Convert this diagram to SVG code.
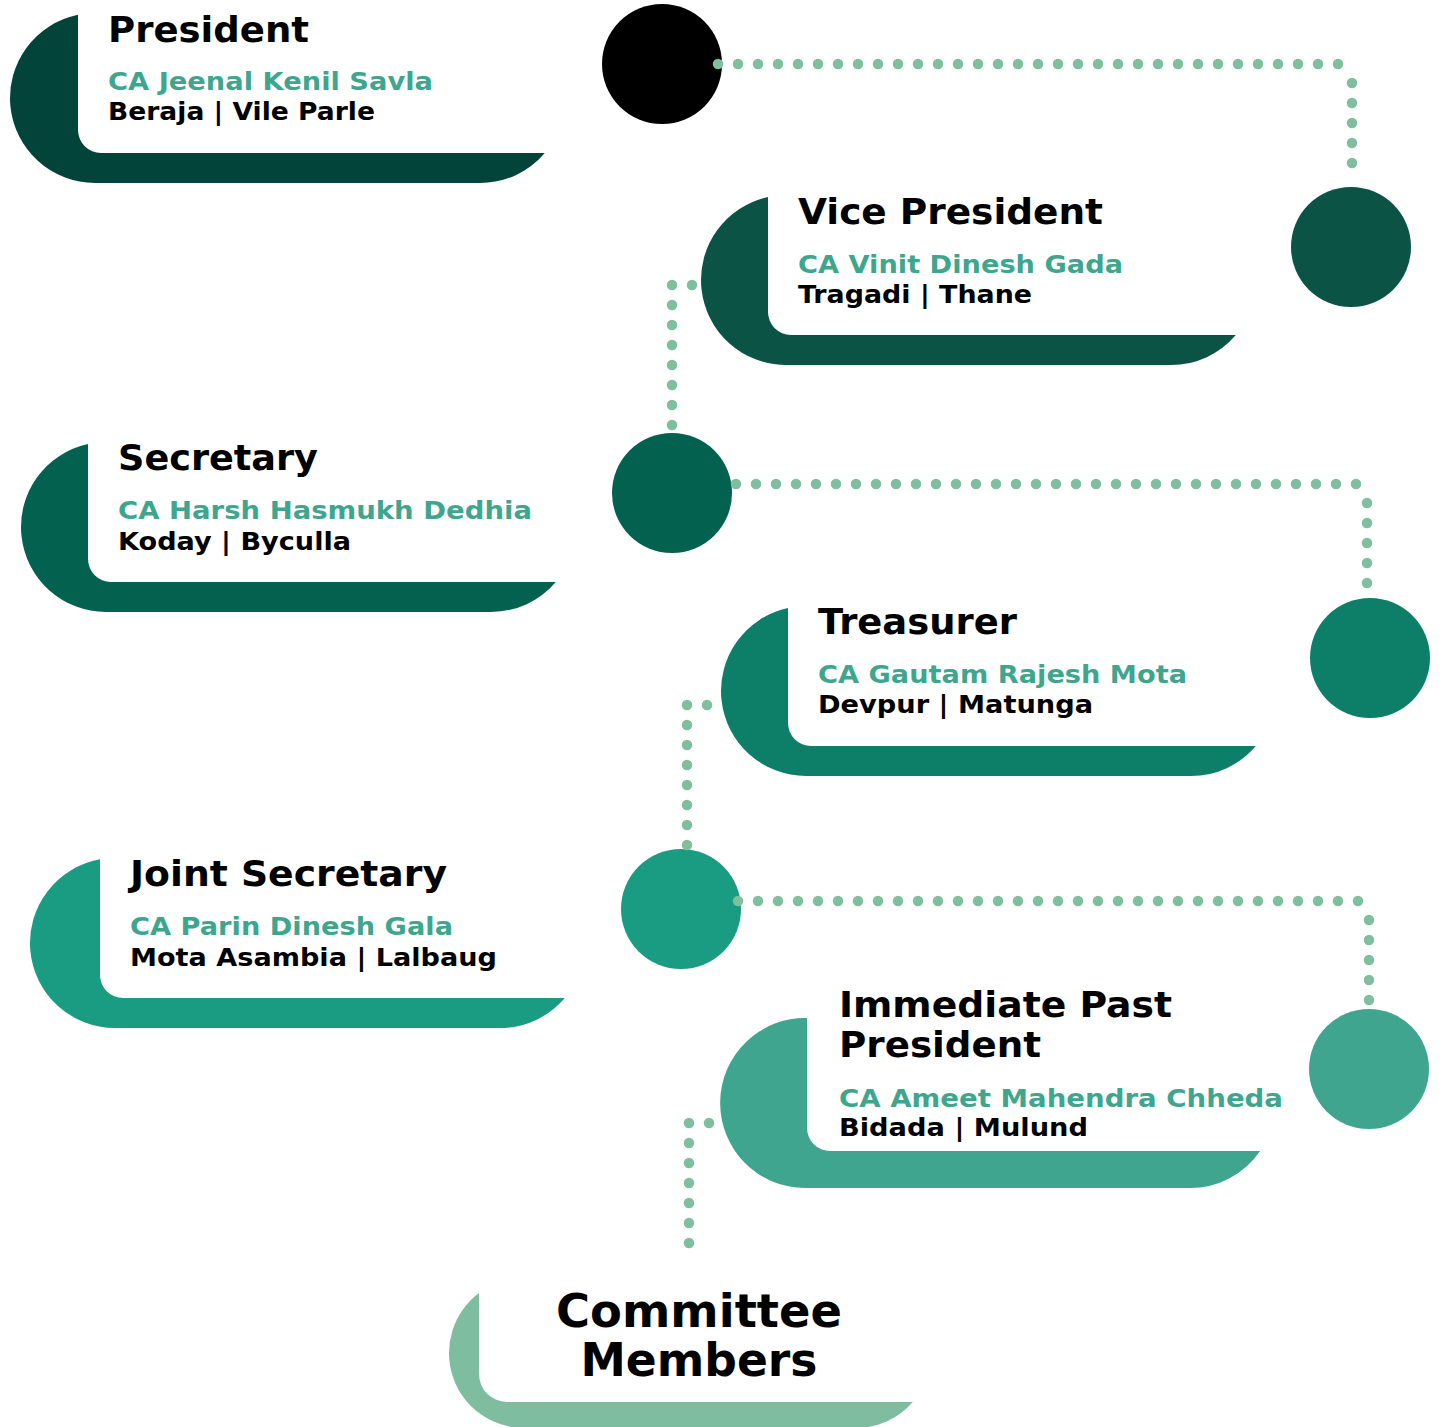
<svg xmlns="http://www.w3.org/2000/svg" width="1443" height="1427" viewBox="0 0 1443 1427">
<style>
  text { font-family: "DejaVu Sans", "Liberation Sans", sans-serif; font-weight: bold; }
  .title { font-size: 35px; fill: #000; }
  .name { font-size: 25px; fill: #3fa68e; }
  .loc { font-size: 25px; fill: #000; }
  .big { font-size: 46px; fill: #000; text-anchor: middle; }
  .dots { fill: none; stroke: #7fbf9f; stroke-width: 10.5; stroke-linecap: round; stroke-dasharray: 0 20; }
</style>
<rect width="1443" height="1427" fill="#ffffff"/>

<g id="president">
  <path d="M78,14.72 A85,85 0 0 0 95,183 H480 A85,85 0 0 0 544.81,153 H101 A23,23 0 0 1 78,130 Z" fill="#02443a"/>
  <circle cx="662" cy="64" r="60" fill="#000000"/>
  <text class="title" x="108" y="42" textLength="201" lengthAdjust="spacingAndGlyphs">President</text>
  <text class="name" x="108" y="90" textLength="325" lengthAdjust="spacingAndGlyphs">CA Jeenal Kenil Savla</text>
  <text class="loc" x="108" y="120" textLength="267" lengthAdjust="spacingAndGlyphs">Beraja | Vile Parle</text>
</g>

<g id="vice-president">
  <path d="M768,196.93 A85,85 0 0 0 786,365 H1171 A85,85 0 0 0 1235.81,335 H791 A23,23 0 0 1 768,312 Z" fill="#0b5345"/>
  <circle cx="1351" cy="247" r="60" fill="#0b5345"/>
  <text class="title" x="798" y="224" textLength="305" lengthAdjust="spacingAndGlyphs">Vice President</text>
  <text class="name" x="798" y="273" textLength="325" lengthAdjust="spacingAndGlyphs">CA Vinit Dinesh Gada</text>
  <text class="loc" x="798" y="303" textLength="234" lengthAdjust="spacingAndGlyphs">Tragadi | Thane</text>
</g>

<g id="secretary">
  <path d="M88,443.93 A85,85 0 0 0 106,612 H491 A85,85 0 0 0 555.81,582 H111 A23,23 0 0 1 88,559 Z" fill="#02614f"/>
  <circle cx="672" cy="493" r="60" fill="#02614f"/>
  <text class="title" x="118" y="470" textLength="200" lengthAdjust="spacingAndGlyphs">Secretary</text>
  <text class="name" x="118" y="519" textLength="414" lengthAdjust="spacingAndGlyphs">CA Harsh Hasmukh Dedhia</text>
  <text class="loc" x="118" y="550" textLength="233" lengthAdjust="spacingAndGlyphs">Koday | Byculla</text>
</g>

<g id="treasurer">
  <path d="M788,607.93 A85,85 0 0 0 806,776 H1191 A85,85 0 0 0 1255.81,746 H811 A23,23 0 0 1 788,723 Z" fill="#0d7f68"/>
  <circle cx="1370" cy="658" r="60" fill="#0d7f68"/>
  <text class="title" x="818" y="634" textLength="199" lengthAdjust="spacingAndGlyphs">Treasurer</text>
  <text class="name" x="818" y="683" textLength="369" lengthAdjust="spacingAndGlyphs">CA Gautam Rajesh Mota</text>
  <text class="loc" x="818" y="713" textLength="275" lengthAdjust="spacingAndGlyphs">Devpur | Matunga</text>
</g>

<g id="joint-secretary">
  <path d="M100,859.33 A85,85 0 0 0 115,1028 H500 A85,85 0 0 0 564.81,998 H123 A23,23 0 0 1 100,975 Z" fill="#1a9c82"/>
  <circle cx="681" cy="909" r="60" fill="#1a9c82"/>
  <text class="title" x="130" y="886" textLength="317" lengthAdjust="spacingAndGlyphs">Joint Secretary</text>
  <text class="name" x="130" y="935" textLength="323" lengthAdjust="spacingAndGlyphs">CA Parin Dinesh Gala</text>
  <text class="loc" x="130" y="966" textLength="367" lengthAdjust="spacingAndGlyphs">Mota Asambia | Lalbaug</text>
</g>

<g id="immediate-past-president">
  <path d="M807,1018.02 A85,85 0 1 0 805,1188 H1190 A85,85 0 0 0 1260.15,1151 H830 A23,23 0 0 1 807,1128 Z" fill="#3fa58f"/>
  <circle cx="1369" cy="1069" r="60" fill="#3fa58f"/>
  <text class="title" x="839" y="1017" textLength="333" lengthAdjust="spacingAndGlyphs">Immediate Past</text>
  <text class="title" x="839" y="1057" textLength="202" lengthAdjust="spacingAndGlyphs">President</text>
  <text class="name" x="839" y="1107" textLength="444" lengthAdjust="spacingAndGlyphs">CA Ameet Mahendra Chheda</text>
  <text class="loc" x="839" y="1136" textLength="249" lengthAdjust="spacingAndGlyphs">Bidada | Mulund</text>
</g>

<g id="committee-members">
  <path d="M479,1293 A75,75 0 0 0 524,1428 H856 A75,75 0 0 0 912.78,1402 H507 A28,28 0 0 1 479,1374 Z" fill="#7ebd9f"/>
  <text class="big" x="699" y="1327" textLength="286" lengthAdjust="spacingAndGlyphs">Committee</text>
  <text class="big" x="699" y="1376" textLength="237" lengthAdjust="spacingAndGlyphs">Members</text>
</g>

<g id="connectors">
  <path class="dots" d="M718,64 H1339 M1352,83 V164"/>
  <path class="dots" d="M692,285 H672 V426"/>
  <path class="dots" d="M736,484 H1357 M1367,503 V584"/>
  <path class="dots" d="M707,705 H687 V846"/>
  <path class="dots" d="M738,901 H1359 M1369,920 V1001"/>
  <path class="dots" d="M709,1123 H689 V1244"/>
</g>
</svg>
